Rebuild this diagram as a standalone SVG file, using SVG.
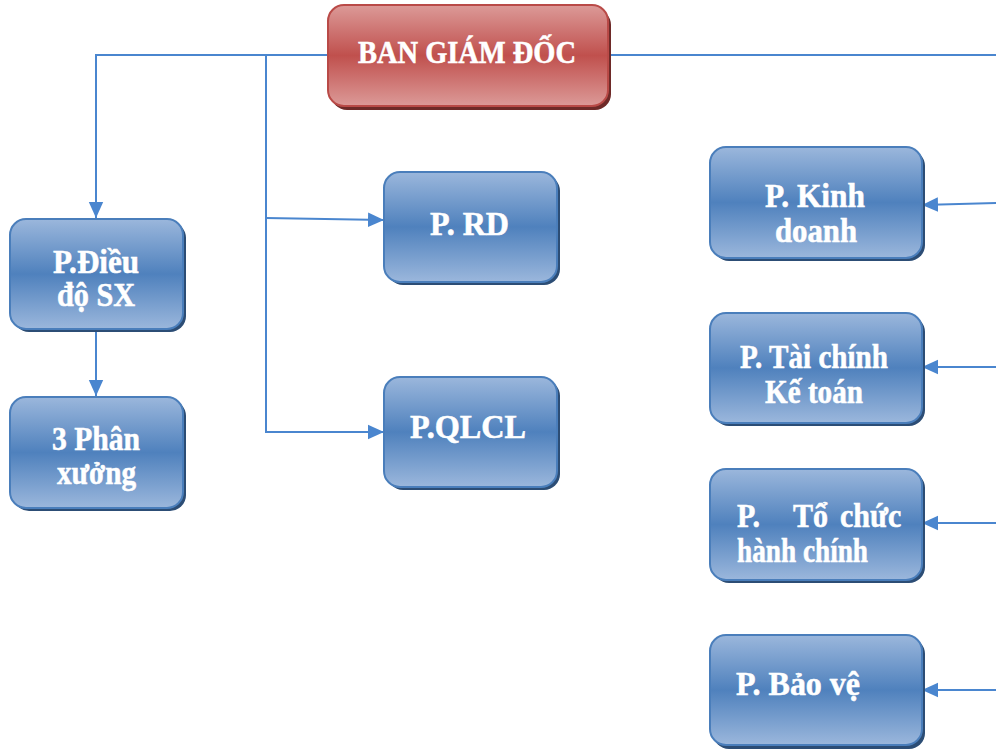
<svg xmlns="http://www.w3.org/2000/svg" width="996" height="749" viewBox="0 0 996 749">
<defs>
<linearGradient id="gBlue" x1="0" y1="0" x2="0" y2="1">
<stop offset="0" stop-color="#9bb7dc"/>
<stop offset="0.5" stop-color="#4f81bd"/>
<stop offset="1" stop-color="#9bb7dc"/>
</linearGradient>
<linearGradient id="gRed" x1="0" y1="0" x2="0" y2="1">
<stop offset="0" stop-color="#dc9a98"/>
<stop offset="0.5" stop-color="#c0504d"/>
<stop offset="1" stop-color="#dc9a98"/>
</linearGradient>
<marker id="arr" viewBox="0 0 10 10" refX="10" refY="5" markerWidth="8" markerHeight="8" markerUnits="strokeWidth" orient="auto">
<path d="M0,0.5 L10,5 L0,9.5 Z" fill="#4a86cf"/>
</marker>
</defs>
<style>
.conn{fill:none;stroke:#4a86cf;stroke-width:2}
.bshadow{fill:#2c4d75}
.bbox{fill:url(#gBlue);stroke:#4a7ebb;stroke-width:2}
.rshadow{fill:#6e2a28}
.rbox{fill:url(#gRed);stroke:#b94a47;stroke-width:2}
.t{font-family:"Liberation Serif","Times New Roman",serif;font-weight:bold;font-size:30px;fill:#ffffff;stroke:#ffffff;stroke-width:0.5}
</style>
<rect width="996" height="749" fill="#ffffff"/>
<g id="connectors">
<path class="conn" d="M328,55 H96 V218" marker-end="url(#arr)"/>
<path class="conn" d="M266,55 V432 H384" marker-end="url(#arr)"/>
<path class="conn" d="M266,218 L384,220" marker-end="url(#arr)"/>
<path class="conn" d="M96,329 V396" marker-end="url(#arr)"/>
<path class="conn" d="M608,55 H996"/>
<path class="conn" d="M996,203 L922,205" marker-end="url(#arr)"/>
<path class="conn" d="M996,367 H922" marker-end="url(#arr)"/>
<path class="conn" d="M996,523 H922" marker-end="url(#arr)"/>
<path class="conn" d="M996,690 H922" marker-end="url(#arr)"/>
</g>
<g id="ban-giam-doc">
<rect class="rshadow" x="331" y="9" width="280" height="101" rx="16"/>
<rect class="rbox" x="328" y="5" width="280" height="101" rx="16"/>
<text class="t" style="font-size:28px" transform="translate(358,63) scale(1,1.12)" textLength="218" lengthAdjust="spacingAndGlyphs">BAN GIÁM ĐỐC</text>
</g>
<g id="p-dieu-do-sx">
<rect class="bshadow" x="13" y="222" width="173" height="110" rx="16"/>
<rect class="bbox" x="10" y="219" width="173" height="110" rx="16"/>
<text class="t" transform="translate(53,273) scale(1,1.1)" textLength="86" lengthAdjust="spacingAndGlyphs">P.Điều</text>
<text class="t" transform="translate(57,306) scale(1,1.1)" textLength="78" lengthAdjust="spacingAndGlyphs">độ SX</text>
</g>
<g id="3-phan-xuong">
<rect class="bshadow" x="13" y="400" width="173" height="111" rx="16"/>
<rect class="bbox" x="10" y="397" width="173" height="111" rx="16"/>
<text class="t" transform="translate(52,450) scale(1,1.1)" textLength="88" lengthAdjust="spacingAndGlyphs">3 Phân</text>
<text class="t" transform="translate(57,484) scale(1,1.1)" textLength="79" lengthAdjust="spacingAndGlyphs">xưởng</text>
</g>
<g id="p-rd">
<rect class="bshadow" x="387" y="175" width="173" height="110" rx="16"/>
<rect class="bbox" x="384" y="172" width="173" height="110" rx="16"/>
<text class="t" transform="translate(430,235) scale(1,1.1)" textLength="79" lengthAdjust="spacingAndGlyphs">P. RD</text>
</g>
<g id="p-qlcl">
<rect class="bshadow" x="387" y="380" width="173" height="110" rx="16"/>
<rect class="bbox" x="384" y="377" width="173" height="110" rx="16"/>
<text class="t" transform="translate(410,438) scale(1,1.1)" textLength="116" lengthAdjust="spacingAndGlyphs">P.QLCL</text>
</g>
<g id="p-kinh-doanh">
<rect class="bshadow" x="713" y="150" width="212" height="111" rx="16"/>
<rect class="bbox" x="710" y="147" width="212" height="111" rx="16"/>
<text class="t" transform="translate(765,207) scale(1,1.1)" textLength="100" lengthAdjust="spacingAndGlyphs">P. Kinh</text>
<text class="t" transform="translate(775,242) scale(1,1.1)" textLength="82" lengthAdjust="spacingAndGlyphs">doanh</text>
</g>
<g id="p-tai-chinh-ke-toan">
<rect class="bshadow" x="713" y="316" width="212" height="110" rx="16"/>
<rect class="bbox" x="710" y="313" width="212" height="110" rx="16"/>
<text class="t" transform="translate(740,368) scale(1,1.1)" textLength="148" lengthAdjust="spacingAndGlyphs">P. Tài chính</text>
<text class="t" transform="translate(765,403) scale(1,1.1)" textLength="98" lengthAdjust="spacingAndGlyphs">Kế toán</text>
</g>
<g id="p-to-chuc-hanh-chinh">
<rect class="bshadow" x="713" y="472" width="212" height="111" rx="16"/>
<rect class="bbox" x="710" y="469" width="212" height="111" rx="16"/>
<text class="t" transform="translate(0,527) scale(1,1.1)"><tspan x="737">P.</tspan><tspan x="793">Tổ</tspan><tspan x="840">chức</tspan></text>
<text class="t" transform="translate(737,562) scale(1,1.1)" textLength="131" lengthAdjust="spacingAndGlyphs">hành chính</text>
</g>
<g id="p-bao-ve">
<rect class="bshadow" x="713" y="638" width="212" height="111" rx="16"/>
<rect class="bbox" x="710" y="635" width="212" height="110" rx="16"/>
<text class="t" transform="translate(736,695) scale(1,1.1)" textLength="124" lengthAdjust="spacingAndGlyphs">P. Bảo vệ</text>
</g>
</svg>
